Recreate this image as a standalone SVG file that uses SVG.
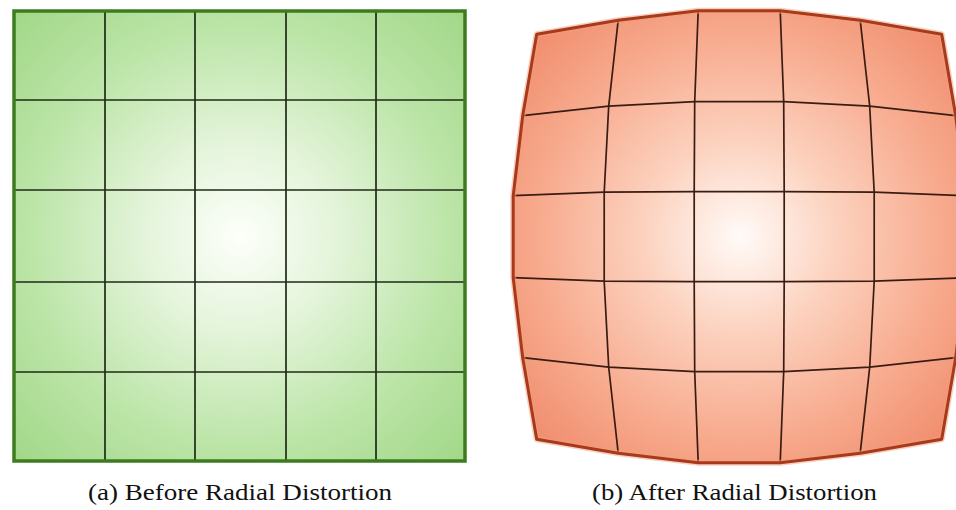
<svg xmlns="http://www.w3.org/2000/svg" width="956" height="510" viewBox="0 0 956 510">
  <defs>
    <radialGradient id="gGreen" gradientUnits="userSpaceOnUse" cx="240" cy="237" r="320">
      <stop offset="0" stop-color="#fdfffb"/>
      <stop offset="0.3" stop-color="#e4f4da"/>
      <stop offset="0.65" stop-color="#bce5a8"/>
      <stop offset="1" stop-color="#a1d787"/>
    </radialGradient>
    <radialGradient id="gRed" gradientUnits="userSpaceOnUse" cx="740" cy="237" r="320">
      <stop offset="0" stop-color="#fffbf8"/>
      <stop offset="0.3" stop-color="#fcd2bf"/>
      <stop offset="0.65" stop-color="#f7a88b"/>
      <stop offset="1" stop-color="#ee8262"/>
    </radialGradient>
    <style>
      .gline { fill: none; stroke: #1f2a16; stroke-width: 1.7; }
      .rline { fill: none; stroke: #3b1c12; stroke-width: 1.7; stroke-linejoin: round; }
      .cap { font-family: "Liberation Serif", "Times New Roman", serif; font-size: 24px; fill: #111; text-anchor: middle; }
    </style>
  </defs>

  <g id="before">
    <rect x="14" y="11" width="451" height="450" fill="url(#gGreen)"/>
    <g class="gline">
      <line x1="105" y1="11" x2="105" y2="461"/>
      <line x1="195" y1="11" x2="195" y2="461"/>
      <line x1="286" y1="11" x2="286" y2="461"/>
      <line x1="376" y1="11" x2="376" y2="461"/>
      <line x1="14" y1="100" x2="465" y2="100"/>
      <line x1="14" y1="190" x2="465" y2="190"/>
      <line x1="14" y1="282" x2="465" y2="282"/>
      <line x1="14" y1="372" x2="465" y2="372"/>
    </g>
    <rect x="14" y="11" width="451" height="450" fill="none" stroke="#3d7c1e" stroke-width="3.5"/>
  </g>

  <g id="after">
    <polygon fill="url(#gRed)" points="536.7,34.2 618.2,20.2 698.2,10.7 780.2,10.7 860.2,20.2 941.7,34.2 955.7,115.7 965.2,195.7 965.2,277.7 955.7,357.7 941.7,439.2 860.2,453.2 780.2,462.7 698.2,462.7 618.2,453.2 536.7,439.2 522.7,357.7 513.2,277.7 513.2,195.7 522.7,115.7"/>
    <g class="rline">
      <polyline points="522.7,115.7 608.7,106.2 694.7,101.7 783.7,101.7 869.7,106.2 955.7,115.7"/>
      <polyline points="513.2,195.7 604.2,192.2 694.2,191.7 784.2,191.7 874.2,192.2 965.2,195.7"/>
      <polyline points="513.2,277.7 604.2,281.2 694.2,281.7 784.2,281.7 874.2,281.2 965.2,277.7"/>
      <polyline points="522.7,357.7 608.7,367.2 694.7,371.7 783.7,371.7 869.7,367.2 955.7,357.7"/>
      <polyline points="618.2,20.2 608.7,106.2 604.2,192.2 604.2,281.2 608.7,367.2 618.2,453.2"/>
      <polyline points="698.2,10.7 694.7,101.7 694.2,191.7 694.2,281.7 694.7,371.7 698.2,462.7"/>
      <polyline points="780.2,10.7 783.7,101.7 784.2,191.7 784.2,281.7 783.7,371.7 780.2,462.7"/>
      <polyline points="860.2,20.2 869.7,106.2 874.2,192.2 874.2,281.2 869.7,367.2 860.2,453.2"/>
    </g>
    <polygon fill="none" stroke="#f0a080" stroke-opacity="0.5" stroke-width="6" stroke-linejoin="round" points="536.7,34.2 618.2,20.2 698.2,10.7 780.2,10.7 860.2,20.2 941.7,34.2 955.7,115.7 965.2,195.7 965.2,277.7 955.7,357.7 941.7,439.2 860.2,453.2 780.2,462.7 698.2,462.7 618.2,453.2 536.7,439.2 522.7,357.7 513.2,277.7 513.2,195.7 522.7,115.7"/>
    <polygon fill="none" stroke="#a8391a" stroke-width="3" stroke-linejoin="round" points="536.7,34.2 618.2,20.2 698.2,10.7 780.2,10.7 860.2,20.2 941.7,34.2 955.7,115.7 965.2,195.7 965.2,277.7 955.7,357.7 941.7,439.2 860.2,453.2 780.2,462.7 698.2,462.7 618.2,453.2 536.7,439.2 522.7,357.7 513.2,277.7 513.2,195.7 522.7,115.7"/>
  </g>

  <g id="captions">
    <text class="cap" x="240" y="500" textLength="304" lengthAdjust="spacingAndGlyphs">(a) Before Radial Distortion</text>
    <text class="cap" x="734.5" y="500" textLength="285" lengthAdjust="spacingAndGlyphs">(b) After Radial Distortion</text>
  </g>
</svg>
